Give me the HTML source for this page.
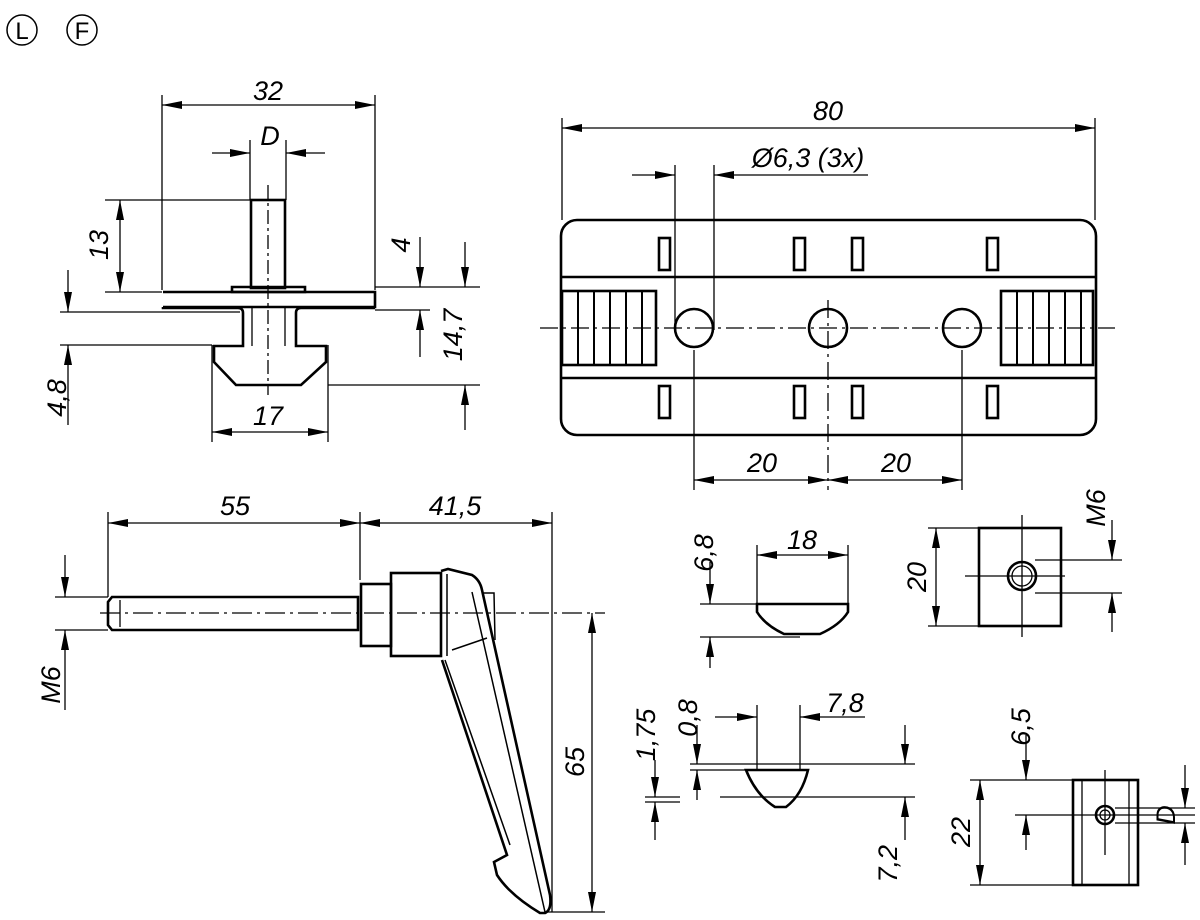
<!DOCTYPE html>
<html><head><meta charset="utf-8"><style>
html,body{margin:0;padding:0;background:#fff}
svg{display:block}
text{font-family:"Liberation Sans",sans-serif;font-style:italic;font-size:27px;fill:#000}
</style></head><body>
<svg width="1200" height="920" viewBox="0 0 1200 920" xmlns="http://www.w3.org/2000/svg">
<defs>
<marker id="a" viewBox="0 0 20 8" refX="20" refY="4" markerWidth="20" markerHeight="8" markerUnits="userSpaceOnUse" orient="auto-start-reverse"><path d="M0,0 L20,4 L0,8 z" fill="#000"/></marker>
</defs>
<g fill="none" stroke="#000" stroke-width="1.5">
<circle cx="22" cy="30" r="15"/><circle cx="82" cy="30" r="15"/>
</g>
<text x="22" y="39" text-anchor="middle" style="font-style:normal;font-size:24px">L</text>
<text x="82" y="39" text-anchor="middle" style="font-style:normal;font-size:24px">F</text>

<!-- ===== Drawing 1: T-nut side ===== -->
<g fill="none" stroke="#000" stroke-width="1.3">
<line x1="162" y1="95" x2="162" y2="290"/><line x1="375" y1="95" x2="375" y2="290"/>
<line x1="162" y1="105" x2="375" y2="105" marker-start="url(#a)" marker-end="url(#a)"/>
<line x1="212" y1="153" x2="250" y2="153" marker-end="url(#a)"/><line x1="325" y1="153" x2="286" y2="153" marker-end="url(#a)"/>
<line x1="250" y1="140" x2="250" y2="200"/><line x1="286" y1="140" x2="286" y2="200"/>
<line x1="105" y1="200" x2="250" y2="200"/><line x1="105" y1="292" x2="162" y2="292"/>
<line x1="120" y1="200" x2="120" y2="292" marker-start="url(#a)" marker-end="url(#a)"/>
<line x1="375" y1="287" x2="480" y2="287"/><line x1="375" y1="310" x2="430" y2="310"/>
<line x1="420" y1="237" x2="420" y2="287" marker-end="url(#a)"/><line x1="420" y1="357" x2="420" y2="310" marker-end="url(#a)"/>
<line x1="328" y1="385" x2="480" y2="385"/>
<line x1="465" y1="242" x2="465" y2="287" marker-end="url(#a)"/><line x1="465" y1="430" x2="465" y2="385" marker-end="url(#a)"/>
<line x1="60" y1="312" x2="240" y2="312"/><line x1="60" y1="345" x2="212" y2="345"/>
<line x1="68" y1="270" x2="68" y2="312" marker-end="url(#a)"/><line x1="68" y1="425" x2="68" y2="345" marker-end="url(#a)"/>
<line x1="212" y1="345" x2="212" y2="442"/><line x1="328" y1="345" x2="328" y2="442"/>
<line x1="212" y1="432" x2="328" y2="432" marker-start="url(#a)" marker-end="url(#a)"/>
<line x1="268" y1="185" x2="268" y2="395" stroke-dasharray="14,4,3,4"/>
</g>
<g fill="none" stroke="#000" stroke-width="2.6">
<rect x="251" y="200" width="34" height="88"/>
<path d="M232,287 L305,287 L305,292 L232,292 z"/>
<path d="M163,292 L375,292 L375,307 L163,307"/>
<path d="M163,307 L163,308 L238,308 Q243,308 243,313 L243,346 L214,346 L214,362 L236,385 L301,385 L326,362 L326,346 L296,346 L296,313 Q296,308 301,308 L375,308"/>
<path d="M252,307 L252,346 M285,307 L285,346" stroke-width="1.3"/>
</g>
<text x="268" y="100" text-anchor="middle">32</text>
<text x="270" y="145" text-anchor="middle">D</text>
<text transform="translate(108,245) rotate(-90)" text-anchor="middle">13</text>
<text transform="translate(410,245) rotate(-90)" text-anchor="middle">4</text>
<text transform="translate(462,335) rotate(-90)" text-anchor="middle">14,7</text>
<text transform="translate(66,398) rotate(-90)" text-anchor="middle">4,8</text>
<text x="268" y="425" text-anchor="middle">17</text>

<!-- ===== Drawing 2: top view ===== -->
<g fill="none" stroke="#000" stroke-width="1.3">
<line x1="562" y1="118" x2="562" y2="220"/><line x1="1095" y1="118" x2="1095" y2="220"/>
<line x1="562" y1="128" x2="1095" y2="128" marker-start="url(#a)" marker-end="url(#a)"/>
<line x1="632" y1="175" x2="675" y2="175" marker-end="url(#a)"/><line x1="868" y1="175" x2="714" y2="175" marker-end="url(#a)"/>
<line x1="675" y1="165" x2="675" y2="330"/><line x1="714" y1="165" x2="714" y2="330"/>
<line x1="540" y1="328" x2="1115" y2="328" stroke-dasharray="18,5,3,5"/>
<line x1="694" y1="350" x2="694" y2="490"/><line x1="828" y1="300" x2="828" y2="490" stroke-dasharray="18,5,3,5"/><line x1="962" y1="350" x2="962" y2="490"/>
<line x1="694" y1="480" x2="828" y2="480" marker-start="url(#a)" marker-end="url(#a)"/>
<line x1="828" y1="480" x2="962" y2="480" marker-start="url(#a)" marker-end="url(#a)"/>
</g>
<g fill="none" stroke="#000" stroke-width="2.6">
<rect x="561" y="220" width="535" height="215" rx="16"/>
<line x1="561" y1="277" x2="1096" y2="277"/><line x1="561" y1="378" x2="1096" y2="378"/>
<circle cx="694" cy="328" r="19"/><circle cx="828" cy="328" r="19"/><circle cx="962" cy="328" r="19"/>
<rect x="562" y="291" width="94" height="74"/><rect x="1001" y="291" width="92" height="74"/>
<g stroke-width="2"><path d="M578,291v74M594,291v74M610,291v74M626,291v74M642,291v74M1017,291v74M1033,291v74M1049,291v74M1065,291v74M1081,291v74"/></g>
<rect x="659" y="238" width="11" height="32"/><rect x="794" y="238" width="11" height="32"/><rect x="852" y="238" width="11" height="32"/><rect x="987" y="238" width="11" height="32"/>
<rect x="659" y="386" width="11" height="32"/><rect x="794" y="386" width="11" height="32"/><rect x="852" y="386" width="11" height="32"/><rect x="987" y="386" width="11" height="32"/>
</g>
<text x="828" y="120" text-anchor="middle">80</text>
<text x="808" y="167" text-anchor="middle">Ø6,3 (3x)</text>
<text x="762" y="472" text-anchor="middle">20</text>
<text x="896" y="472" text-anchor="middle">20</text>

<!-- ===== Drawing 3: lever ===== -->
<g fill="none" stroke="#000" stroke-width="1.3">
<line x1="108" y1="512" x2="108" y2="597"/><line x1="360" y1="512" x2="360" y2="580"/><line x1="552" y1="512" x2="552" y2="912"/>
<line x1="108" y1="523" x2="360" y2="523" marker-start="url(#a)" marker-end="url(#a)"/>
<line x1="360" y1="523" x2="552" y2="523" marker-start="url(#a)" marker-end="url(#a)"/>
<line x1="55" y1="597" x2="108" y2="597"/><line x1="55" y1="630" x2="108" y2="630"/>
<line x1="65" y1="555" x2="65" y2="597" marker-end="url(#a)"/><line x1="65" y1="710" x2="65" y2="630" marker-end="url(#a)"/>
<line x1="100" y1="613" x2="605" y2="613" stroke-dasharray="20,5,3,5"/>
<line x1="545" y1="912" x2="605" y2="912"/>
<line x1="592" y1="613" x2="592" y2="912" marker-start="url(#a)" marker-end="url(#a)"/>
</g>
<g fill="none" stroke="#000" stroke-width="2.6">
<path d="M112,597 L358,597 L358,630 L112,630 L108,625 L108,602 z"/>
<path d="M120,600v27" stroke-width="1.3"/>
<rect x="361" y="584" width="30" height="62"/>
<rect x="391" y="573" width="50" height="83"/>
<path d="M441,571 L448,569 L472,575 Q480,580 482,590 L550,895 Q552,910 545,913 L540,913 Q510,895 497,875 L494,862 L507,855 L442,660"/>
<path d="M482,593 L494,593 L495,640 M447,574 L447,656 M452,650 L487,638 M472,592 L545,912 M445,660 L510,845" stroke-width="1.5"/>
</g>
<text x="235" y="515" text-anchor="middle">55</text>
<text x="455" y="515" text-anchor="middle">41,5</text>
<text transform="translate(60,685) rotate(-90)" text-anchor="middle">M6</text>
<text transform="translate(584,762) rotate(-90)" text-anchor="middle">65</text>

<!-- ===== small profile 18 ===== -->
<g fill="none" stroke="#000" stroke-width="1.3">
<line x1="757" y1="545" x2="757" y2="605"/><line x1="848" y1="545" x2="848" y2="605"/>
<line x1="757" y1="555" x2="848" y2="555" marker-start="url(#a)" marker-end="url(#a)"/>
<line x1="700" y1="604" x2="757" y2="604"/><line x1="700" y1="637" x2="800" y2="637"/>
<line x1="710" y1="562" x2="710" y2="604" marker-end="url(#a)"/><line x1="710" y1="668" x2="710" y2="637" marker-end="url(#a)"/>
</g>
<path d="M757,604 L848,604 L848,612 Q840,625 820,634 L784,634 Q765,625 757,612 z" fill="none" stroke="#000" stroke-width="2.6"/>
<text x="802" y="549" text-anchor="middle">18</text>
<text transform="translate(713,553) rotate(-90)" text-anchor="middle">6,8</text>

<!-- ===== M6 square ===== -->
<g fill="none" stroke="#000" stroke-width="1.3">
<line x1="928" y1="528" x2="980" y2="528"/><line x1="928" y1="626" x2="980" y2="626"/>
<line x1="936" y1="528" x2="936" y2="626" marker-start="url(#a)" marker-end="url(#a)"/>
<line x1="1022" y1="515" x2="1022" y2="637"/><line x1="965" y1="576" x2="1065" y2="576"/>
<line x1="1035" y1="560" x2="1122" y2="560"/><line x1="1035" y1="593" x2="1122" y2="593"/>
<line x1="1112" y1="520" x2="1112" y2="560" marker-end="url(#a)"/><line x1="1112" y1="632" x2="1112" y2="593" marker-end="url(#a)"/>
</g>
<g fill="none" stroke="#000" stroke-width="2.6">
<rect x="979" y="528" width="82" height="98"/>
<circle cx="1022" cy="576" r="14"/><circle cx="1022" cy="576" r="10" stroke-width="1.3"/>
</g>
<text transform="translate(926,577) rotate(-90)" text-anchor="middle">20</text>
<text transform="translate(1105,508) rotate(-90)" text-anchor="middle">M6</text>

<!-- ===== 7,8 profile ===== -->
<g fill="none" stroke="#000" stroke-width="1.3">
<line x1="757" y1="705" x2="757" y2="770"/><line x1="800" y1="705" x2="800" y2="770"/>
<line x1="715" y1="717" x2="757" y2="717" marker-end="url(#a)"/><line x1="865" y1="717" x2="800" y2="717" marker-end="url(#a)"/>
<line x1="690" y1="764" x2="915" y2="764"/><line x1="690" y1="770" x2="760" y2="770"/>
<line x1="645" y1="802" x2="680" y2="802"/><line x1="645" y1="797" x2="680" y2="797"/>
<line x1="720" y1="797" x2="915" y2="797"/>
<line x1="697" y1="725" x2="697" y2="764" marker-end="url(#a)"/><line x1="697" y1="800" x2="697" y2="770" marker-end="url(#a)"/>
<line x1="655" y1="760" x2="655" y2="797" marker-end="url(#a)"/><line x1="655" y1="840" x2="655" y2="802" marker-end="url(#a)"/>
<line x1="905" y1="725" x2="905" y2="764" marker-end="url(#a)"/><line x1="905" y1="840" x2="905" y2="797" marker-end="url(#a)"/>
</g>
<path d="M746,770 L808,770 Q802,795 786,807 L775,807 Q756,795 746,770 z" fill="none" stroke="#000" stroke-width="2.6"/>
<text x="845" y="712" text-anchor="middle">7,8</text>
<text transform="translate(697,718) rotate(-90)" text-anchor="middle">0,8</text>
<text transform="translate(655,735) rotate(-90)" text-anchor="middle">1,75</text>
<text transform="translate(897,845) rotate(-90)" text-anchor="end">7,2</text>

<!-- ===== D square ===== -->
<g fill="none" stroke="#000" stroke-width="1.3">
<line x1="970" y1="780" x2="1075" y2="780"/><line x1="970" y1="885" x2="1075" y2="885"/>
<line x1="980" y1="780" x2="980" y2="885" marker-start="url(#a)" marker-end="url(#a)"/>
<line x1="1015" y1="815" x2="1195" y2="815"/><line x1="1105" y1="770" x2="1105" y2="855"/>
<line x1="1026" y1="735" x2="1026" y2="780" marker-end="url(#a)"/>
<line x1="1026" y1="850" x2="1026" y2="815" marker-end="url(#a)"/>
<line x1="1115" y1="808" x2="1195" y2="808"/><line x1="1115" y1="823" x2="1195" y2="823"/>
<line x1="1185" y1="765" x2="1185" y2="808" marker-end="url(#a)"/><line x1="1185" y1="865" x2="1185" y2="823" marker-end="url(#a)"/>
</g>
<g fill="none" stroke="#000" stroke-width="2.6">
<rect x="1073" y="780" width="65" height="105"/>
<line x1="1082" y1="780" x2="1082" y2="885" stroke-width="1.3"/><line x1="1129" y1="780" x2="1129" y2="885" stroke-width="1.3"/>
<circle cx="1105" cy="815" r="9"/><circle cx="1105" cy="815" r="5" stroke-width="1.3"/>
</g>
<text transform="translate(970,832) rotate(-90)" text-anchor="middle">22</text>
<text transform="translate(1030,727) rotate(-90)" text-anchor="middle">6,5</text>
<text transform="translate(1175,815) rotate(-90)" text-anchor="middle">D</text>
</svg>
</body></html>
